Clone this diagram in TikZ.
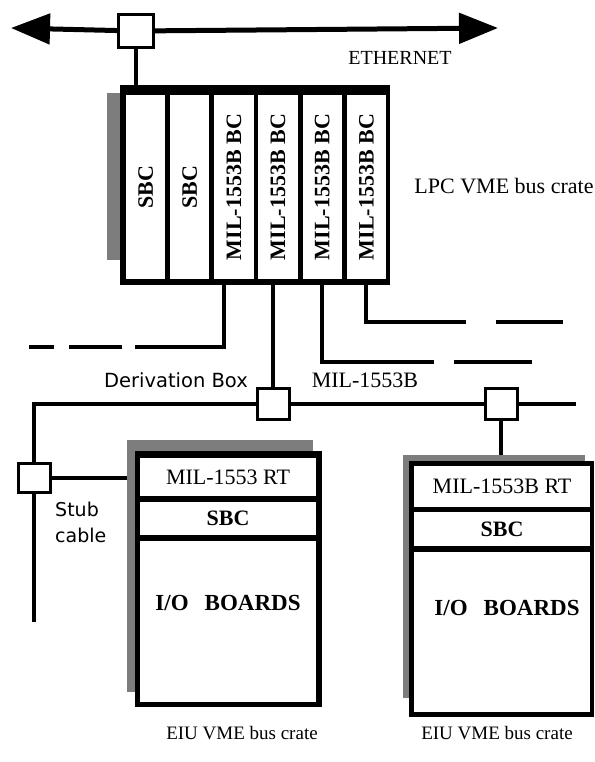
\documentclass[tikz,border=0pt]{standalone}
\usepackage{fontspec}
\setmainfont{Liberation Serif}
\newfontfamily\boxsans{DejaVu Sans}
\usepackage{tikz}
\usetikzlibrary{arrows.meta,positioning}
\definecolor{crateshade}{RGB}{125,125,125}
\newcommand{\fsz}[1]{\fontsize{#1}{#1}\selectfont}

\begin{document}
\begin{tikzpicture}[x=1pt, y=-1pt,
  bus/.style={line width=4pt},
  eth/.style={line width=5pt, -{Triangle[length=39pt,width=30pt]}},
  tap/.style={draw, line width=3pt, fill=white, minimum width=32pt,
              minimum height=31pt, inner sep=0pt},
  crateback/.style={fill=crateshade, inner sep=0pt},
  crateframe/.style={fill=black, inner sep=0pt},
  panel/.style={fill=white, inner sep=0pt, minimum width=176pt},
  slot/.style={fill=white, inner sep=0pt, minimum width=39.25pt,
               minimum height=184pt, font=\fsz{22}\bfseries}]
\useasboundingbox (0,0) rectangle (594,762);

% ethernet
\coordinate (ethL) at (11,28);
\coordinate (ethR) at (498,28);
\node[tap, minimum width=35pt, minimum height=33pt] (ebox) at (136,31) {};
\draw[eth] (ebox) -- (ethL);
\draw[eth] (ebox) -- (ethR);
\node[font=\fsz{20}] (ethlbl) at (400,58) {ETHERNET};

% LPC crate
\node[crateback, minimum width=17pt, minimum height=167pt] (lpcback) at (115.5,176.5) {};
\node[crateframe, minimum width=270pt, minimum height=200pt] (lpc) at (255,185) {};
\node[slot] (s1) at (145.6,187) {\rotatebox{90}{SBC}};
\node[slot, right=4.5pt of s1] (s2) {\rotatebox{90}{SBC}};
\node[slot, right=4.5pt of s2] (s3) {\rotatebox{90}{MIL-1553B BC}};
\node[slot, right=4.5pt of s3] (s4) {\rotatebox{90}{MIL-1553B BC}};
\node[slot, right=4.5pt of s4] (s5) {\rotatebox{90}{MIL-1553B BC}};
\node[slot, right=4.5pt of s5] (s6) {\rotatebox{90}{MIL-1553B BC}};
\node[font=\fsz{22}] (lpclbl) at (504,186) {LPC VME bus crate};
\draw[bus] (ebox) -- (ebox |- lpc.north);

% bus taps
\node[tap] (dbox1) at (273,404) {};
\node[tap] (dbox2) at (501,404) {};
\node[tap, minimum height=29pt] (stub) at (34,478) {};
\coordinate (busR) at (576,404);
\coordinate (stubEnd) at (34,622);
\coordinate (dashA) at (28,347);
\coordinate (dashB) at (532,362);
\coordinate (dashC) at (563,322);

\draw[bus, dash pattern=on 157pt off 13pt on 53pt off 15pt on 25pt off 99pt]
  ([xshift=-10pt]s3.south) |- (dashA);
\draw[bus, dash pattern=on 195pt off 20pt on 79pt off 99pt] (s5.south) |- (dashB);
\draw[bus, dash pattern=on 142pt off 30pt on 70pt off 99pt] (s6.south) |- (dashC);
\draw[bus] (dbox1.north) -- (dbox1.north |- s4.south);
\draw[bus] (stub.north) |- (dbox1.west);
\draw[bus] (dbox1) -- (dbox2);
\draw[bus] (dbox2) -- (busR);
\draw[bus] (stub) -- (stubEnd);

\node[font=\boxsans\fsz{19.5}] (derivlbl) at (176,380) {Derivation Box};
\node[font=\fsz{22}] (buslbl) at (365,380) {MIL-1553B};
\node[font=\boxsans\fontsize{19}{26}\selectfont, align=left, anchor=north west,
      inner sep=0pt] (stublbl) at (55,502) {Stub\\cable};

% EIU crates
\node[crateback, minimum width=186pt, minimum height=252pt] (backA) at (220,566) {};
\node[crateframe, minimum width=187pt, minimum height=256pt] (eiuA) at (228.5,579) {};
\node[panel, minimum height=38pt, font=\fsz{22}] (rtA) at (228,477) {MIL-1553 RT};
\node[panel, minimum height=33pt, font=\fsz{22}\bfseries] (sbcA) at (228,518.5) {SBC};
\node[panel, minimum height=161pt] (ioA) at (228,621.5) {};
\node[font=\fsz{23}\bfseries] (ioAtxt) at (228,603) {I/O\hspace{0.7em}BOARDS};
\node[font=\fsz{19}] (eiuAlbl) at (242,733) {EIU VME bus crate};

\node[crateback, minimum width=182pt, minimum height=243pt] (backB) at (494,576.5) {};
\node[crateframe, minimum width=185pt, minimum height=256pt] (eiuB) at (501.5,589) {};
\node[panel, minimum height=41pt, font=\fsz{22}] (rtB) at (502,486.5) {MIL-1553B RT};
\node[panel, minimum height=34pt, font=\fsz{22}\bfseries] (sbcB) at (502,529) {SBC};
\node[panel, minimum height=160pt] (ioB) at (502,632) {};
\node[font=\fsz{23}\bfseries] (ioBtxt) at (507,608) {I/O\hspace{0.7em}BOARDS};
\node[font=\fsz{19}] (eiuBlbl) at (497,733) {EIU VME bus crate};

\draw[bus] (stub) -- (stub -| backA.west);
\draw[bus] (dbox2) -- (dbox2 |- backB.north);
\end{tikzpicture}
\end{document}
